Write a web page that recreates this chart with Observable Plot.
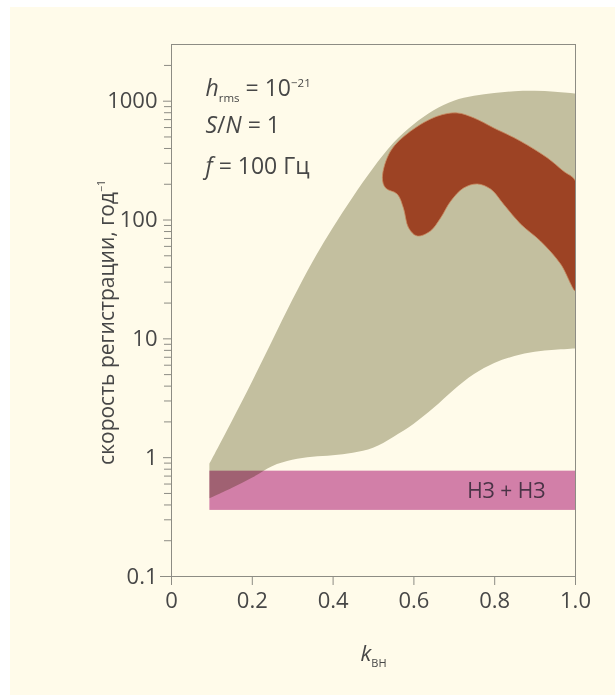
<!DOCTYPE html>
<html><head><meta charset="utf-8">
<script src="https://cdn.jsdelivr.net/npm/d3@7"></script>
<script src="https://cdn.jsdelivr.net/npm/@observablehq/plot@0.6"></script>
<style>
html,body{margin:0;padding:0;background:#ffffff;}
#panel{position:absolute;left:10px;top:7px;width:605px;height:688px;background:#fffbea;}
#chart{position:absolute;left:0;top:0;}
</style></head>
<body><div id="panel"></div><div id="chart"></div>
<script>
// ---- data ----
const kBH       = [0.095, 0.15, 0.2, 0.25, 0.3, 0.35, 0.4, 0.45, 0.5, 0.55, 0.6, 0.65, 0.7, 0.75, 0.8, 0.85, 0.9, 0.95, 1.0];
const rateUpper = [0.88, 2.0, 4.3, 9.5, 21, 44, 85, 155, 270, 440, 630, 830, 1000, 1100, 1160, 1200, 1210, 1190, 1150];
const rateLower = [0.45, 0.55, 0.67, 0.84, 0.95, 1.01, 1.04, 1.09, 1.2, 1.48, 1.9, 2.6, 3.7, 5.0, 6.2, 7.1, 7.7, 8.0, 8.2];

const blobK    = [0.522, 0.542, 0.592, 0.658, 0.707, 0.748, 0.797, 0.864, 0.930, 0.970, 1.0, 1.0, 1.0, 1.0,
                  0.963, 0.913, 0.864, 0.822, 0.790, 0.757, 0.723, 0.691, 0.666, 0.641, 0.608, 0.587, 0.574, 0.559, 0.530];
const blobRate = [227, 380, 560, 748, 797, 724, 597, 461, 334, 258, 213, 100, 50, 25.3,
                  42.7, 66.6, 92.5, 136, 182, 201, 186, 144, 104, 80.9, 73.4, 85.7, 126, 165, 186];

const nsK = [0.095, 1.0];
const nsRate = [0.36, 0.77];
const nsLabel = "НЗ + НЗ";

const yTicks = [0.1, 1, 10, 100, 1000];
const yTickLabels = ["0.1", "1", "10", "100", "1000"];
const xTicks = [0, 0.2, 0.4, 0.6, 0.8, 1.0];
const xTickLabels = ["0", "0.2", "0.4", "0.6", "0.8", "1.0"];
const yMinorTicks = [];
for (const dec of [0.1, 1, 10, 100]) for (let m = 2; m <= 9; m++) yMinorTicks.push(+(dec * m).toPrecision(3));
yMinorTicks.push(2000);

const annotations = [
  [{t: "h", i: true}, {t: "rms", sub: true}, {t: " = 10"}, {t: "−21", sup: true}],
  [{t: "S", i: true}, {t: "/"}, {t: "N", i: true}, {t: " = 1"}],
  [{t: "f", i: true}, {t: " = 100 Гц"}]
];
const xLabel = [{t: "k", i: true}, {t: "ВН", sub: true}];
const yLabel = [{t: "скорость регистрации, год"}, {t: "−1", sup: true}];

// ---- build tables ----
const band = kBH.map((k, i) => ({k, lo: rateLower[i], hi: rateUpper[i]}));
const blob = blobK.map((k, i) => ({k, r: blobRate[i]}));
const ns = [{k1: nsK[0], k2: nsK[1], r1: nsRate[0], r2: nsRate[1]}];

const axisColor = "#8d8c84";
const plain = segs => segs.map(s => s.t).join("");

const marks = [
  Plot.areaY(band, {x: "k", y1: "lo", y2: "hi", fill: "#c3bf9f", curve: "catmull-rom"}),
  Plot.rect(ns, {x1: "k1", x2: "k2", y1: "r1", y2: "r2", fill: "#d281b7", className: "nsband"}),
  Plot.line(blob, {x: "k", y: "r", fill: "#9d4324", stroke: "#c98c62", strokeWidth: 0.8, curve: "catmull-rom-closed", clip: true}),
  Plot.text([nsLabel], {x: () => nsK[1], y: () => Math.sqrt(nsRate[0] * nsRate[1]), text: d => d, textAnchor: "end", dx: -30, fill: "#4a3346", fontSize: 21}),
  Plot.frame({stroke: axisColor}),
  Plot.ruleY([yTicks[0]], {stroke: axisColor, insetLeft: -11}),
  Plot.axisY({ticks: yMinorTicks, tickSize: 7, tickFormat: () => "", stroke: axisColor, label: null}),
  Plot.axisY({ticks: yTicks, tickSize: 8, tickPadding: 6, tickFormat: d => yTickLabels[yTicks.indexOf(d)], stroke: axisColor, label: null, fontSize: 22}),
  Plot.axisX({ticks: xTicks, tickSize: 9, tickPadding: 7, tickFormat: d => xTickLabels[xTicks.indexOf(d)], stroke: axisColor, label: null, fontSize: 22}),
  ...annotations.map((a, i) => Plot.text([plain(a)], {frameAnchor: "top-left", dx: 34, dy: [35, 72, 113][i], textAnchor: "start", fontSize: 23, className: "annot" + i})),
  Plot.text([plain(xLabel)], {frameAnchor: "bottom", dy: 84, fontSize: 22, className: "xlab"}),
  Plot.text([plain(yLabel)], {frameAnchor: "left", textAnchor: "middle", dx: -64, dy: 12, rotate: -90, fontSize: 21, className: "ylab"})
];

const chart = Plot.plot({
  width: 615, height: 695,
  marginLeft: 171, marginRight: 40, marginTop: 44, marginBottom: 119,
  x: {domain: [0, 1]},
  y: {type: "log", domain: [0.1, 3000]},
  style: {background: "transparent", fontFamily: "'Open Sans', 'Noto Sans', sans-serif", fontSize: "21px", color: "#474747"},
  marks
});
document.getElementById("chart").appendChild(chart);

// multiply blend for the NS band
chart.querySelectorAll(".nsband").forEach(g => g.style.mixBlendMode = "multiply");

// rich text (italics, sub/superscripts)
function rich(el, segs) {
  if (!el) return;
  el.textContent = "";
  let shift = 0;
  for (const s of segs) {
    const t = document.createElementNS("http://www.w3.org/2000/svg", "tspan");
    t.textContent = s.t;
    const target = s.sub ? 6 : s.sup ? -9 : 0;
    if (target !== shift) { t.setAttribute("dy", target - shift); shift = target; }
    if (s.sub || s.sup) t.setAttribute("font-size", "0.5em");
    if (s.i) t.setAttribute("font-style", "italic");
    el.appendChild(t);
  }
}
annotations.forEach((a, i) => rich(chart.querySelector(".annot" + i + " text"), a));
rich(chart.querySelector(".xlab text"), xLabel);
rich(chart.querySelector(".ylab text"), yLabel);
</script>
</body></html>
